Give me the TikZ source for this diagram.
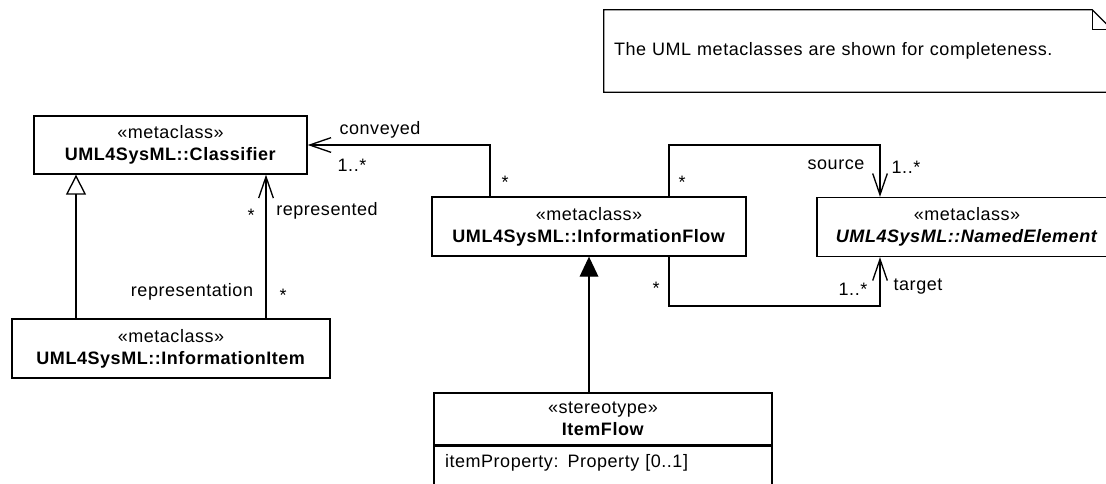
\documentclass[tikz,border=0pt]{standalone}
\usepackage{fontspec}
\setmainfont[LetterSpace=3]{Liberation Sans}
\usepackage{tikz}
\usetikzlibrary{arrows.meta,positioning,calc}

\begin{document}
\begin{tikzpicture}[
    x=0.75pt, y=-0.75pt,
    font=\fontsize{13.5pt}{16.5pt}\selectfont,
    cls/.style={draw, line width=1pt, align=center, minimum height=44.25pt, inner sep=0pt},
    lbl/.style={inner sep=1pt},
    assoc/.style={-{Straight Barb[length=16pt, width=11pt]}, line width=1pt},
    gen/.style={-{Triangle[open, length=15pt, width=15pt]}, line width=1pt},
    ext/.style={-{Triangle[length=15pt, width=14pt]}, line width=1pt}
  ]
    \useasboundingbox (0,0) rectangle (1106,483);
    \node[cls, minimum width=204.75pt, minimum height=43.5pt] (classifier) at (170.5,145) {«metaclass»\\\textbf{UML4SysML::Classifier}};
    \node[cls, minimum width=238.5pt] (item) at (171,348.5) {«metaclass»\\\textbf{UML4SysML::InformationItem}};
    \node[cls, minimum width=235.5pt] (flow) at (589,226.5) {«metaclass»\\\textbf{UML4SysML::InformationFlow}};
    \node[cls, minimum width=225pt] (named) at (967,227) {«metaclass»\\\textbf{\textit{UML4SysML::NamedElement}}};
    \node[cls, minimum width=253.5pt, minimum height=39pt] (iflow) at (603,419) {«stereotype»\\\textbf{ItemFlow}};
    \node[draw, line width=1pt, below=0pt of iflow, text width=237pt, inner xsep=8.25pt, inner ysep=5pt,
      text height=11pt, text depth=25pt, align=left] (iflowprop) {itemProperty: Property [0..1]};
    \node[text width=366pt, inner xsep=7.5pt, minimum height=61.5pt, align=left] (note) at (858,51)
      {The UML metaclasses are shown for completeness.};
    \draw[line width=1pt] (note.north west) -- ($(note.north east)+(-20,0)$) -- ($(note.north east)+(0,20)$)
      -- (note.south east) -- (note.south west) -- cycle;
    \draw[line width=1pt] ($(note.north east)+(-20,0)$) |- ($(note.north east)+(0,20)$);

    \coordinate (genx) at (76,0);
    \coordinate (repx) at (266,0);
    \coordinate (cvbend) at (490,145);
    \coordinate (srcbend) at (669,145);
    \coordinate (srcend) at (880,145);
    \coordinate (tgtbend) at (669,306);
    \coordinate (tgtend) at (880,306);

    \draw[gen] (item.north -| genx) -- (classifier.south -| genx);
    \draw[assoc] (item.north -| repx) -- (classifier.south -| repx);
    \draw[assoc] (flow.north -| cvbend) |- (classifier.east);
    \draw[assoc] (flow.north -| srcbend) -- (srcbend) -- (srcend) -- (named.north -| srcend);
    \draw[assoc] (flow.south -| tgtbend) -- (tgtbend) -- (tgtend) -- (named.south -| tgtend);
    \draw[ext] (iflow.north -| flow.south) -- (flow.south);

    \node[lbl] (cvname) at (380,130) {conveyed};
    \node[lbl] (cvmult) at (352,165) {1..*};
    \node[lbl] (cvflow) at (505,182) {*};
    \node[lbl] (repmult) at (251,215) {*};
    \node[lbl] (repname) at (327,211) {represented};
    \node[lbl] (rptname) at (192,292) {representation};
    \node[lbl] (rptmult) at (283,295) {*};
    \node[lbl] (srcflow) at (682,182) {*};
    \node[lbl] (srcname) at (836,165) {source};
    \node[lbl] (srcmult) at (906,167) {1..*};
    \node[lbl] (tgtflow) at (656,288) {*};
    \node[lbl] (tgtmult) at (853,289) {1..*};
    \node[lbl] (tgtname) at (918,287) {target};
  \end{tikzpicture}
\end{document}
